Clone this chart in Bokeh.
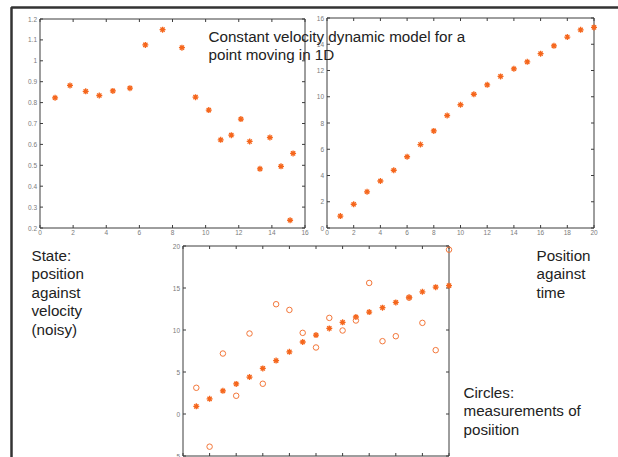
from bokeh.plotting import figure
from bokeh.models import Range1d, Label, BoxAnnotation
from bokeh.core.properties import value
from bokeh.embed import file_html
from bokeh.resources import INLINE

# ---------------- data ----------------
steps = list(range(1, 21))
position = [0.91, 1.81, 2.76, 3.58, 4.40, 5.43, 6.36, 7.40, 8.57, 9.39,
            10.19, 10.91, 11.55, 12.13, 12.66, 13.28, 13.88, 14.55, 15.10, 15.28]
velocity = [0.823, 0.882, 0.854, 0.834, 0.856, 0.869, 1.076, 1.149, 1.063, 0.826,
            0.764, 0.622, 0.644, 0.721, 0.614, 0.483, 0.633, 0.495, 0.237, 0.557]
measured = [3.12, -3.89, 7.20, 2.17, 9.58, 3.60, 13.07, 12.39, 9.66, 7.92,
            11.44, 9.94, 11.13, 15.60, 8.67, 9.26, 13.85, 10.85, 7.60, 19.56]

p1_xlim = (0, 16)
p1_ylim = (0.2, 1.2)
p1_xticks = [0, 2, 4, 6, 8, 10, 12, 14, 16]
p1_xlabels = ["0", "2", "4", "6", "8", "10", "12", "14", "16"]
p1_yticks = [0.2, 0.3, 0.4, 0.5, 0.6, 0.7, 0.8, 0.9, 1.0, 1.1, 1.2]
p1_ylabels = ["0.2", "0.3", "0.4", "0.5", "0.6", "0.7", "0.8", "0.9", "1", "1.1", "1.2"]

p2_xlim = (0, 20)
p2_ylim = (0, 16)
p2_xticks = [0, 2, 4, 6, 8, 10, 12, 14, 16, 18, 20]
p2_xlabels = ["0", "2", "4", "6", "8", "10", "12", "14", "16", "18", "20"]
p2_yticks = [0, 2, 4, 6, 8, 10, 12, 14, 16]
p2_ylabels = ["0", "2", "4", "6", "8", "10", "12", "14", "16"]

p3_xlim = (0, 20)
p3_ylim = (-5, 20)
p3_xticks = [0, 2, 4, 6, 8, 10, 12, 14, 16, 18, 20]
p3_yticks = [-5, 0, 5, 10, 15, 20]
p3_ylabels = ["-5", "0", "5", "10", "15", "20"]

title_text = "Constant velocity dynamic model for a\npoint moving in 1D"
state_text = "State:\nposition\nagainst\nvelocity\n(noisy)"
pos_text = "Position\nagainst\ntime"
circ_text = "Circles:\nmeasurements of\nposiition"

# ---------------- style / layout ----------------
W, H = 618, 457
STAR = "#f5661c"
CIRC = "#f3773a"
AX = "#3c3c3c"
LBL = "#7a7a7a"
FONT = "Liberation Sans"

# page canvas in pixel units (y downwards)
p = figure(width=W, height=H, output_backend="svg", toolbar_location=None,
           x_range=Range1d(0, W), y_range=Range1d(H, 0),
           x_axis_location=None, y_axis_location=None, min_border=0)
p.outline_line_color = None
p.background_fill_color = "white"
p.border_fill_color = "white"
p.xgrid.visible = False
p.ygrid.visible = False


def panel(xlim, ylim, box):
    left, right, top, bottom = box
    return p.subplot(x_source=Range1d(*xlim), y_source=Range1d(*ylim),
                     x_target=Range1d(left, right), y_target=Range1d(bottom, top))


def draw_axes(sub, xlim, ylim, xticks, yticks, xlabels, ylabels):
    nx, ny = len(xticks), len(yticks)
    sub.quad(left=[xlim[0]], right=[xlim[1]], bottom=[ylim[0]], top=[ylim[1]],
             fill_color=None, line_color=AX, line_width=1)
    tick = dict(length=3, length_units="screen", angle_units="deg",
                line_color=AX, line_width=1)
    sub.ray(x=xticks, y=[ylim[0]] * nx, angle=90, **tick)
    sub.ray(x=xticks, y=[ylim[1]] * nx, angle=-90, **tick)
    sub.ray(x=[xlim[0]] * ny, y=yticks, angle=0, **tick)
    sub.ray(x=[xlim[1]] * ny, y=yticks, angle=180, **tick)
    lab = dict(text_font=value(FONT), text_font_size="6.5px", text_color=LBL)
    if xlabels:
        sub.text(x=xticks, y=[ylim[0]] * nx, text=xlabels, text_align="center",
                 text_baseline="top", y_offset=2, **lab)
    sub.text(x=[xlim[0]] * ny, y=yticks, text=ylabels, text_align="right",
             text_baseline="middle", x_offset=-3, **lab)


# plot 1: velocity against position
s1 = panel(p1_xlim, p1_ylim, (39.5, 304.5, 18.5, 227.5))
draw_axes(s1, p1_xlim, p1_ylim, p1_xticks, p1_yticks, p1_xlabels, p1_ylabels)
s1.scatter(position, velocity, marker="asterisk", size=6, line_color=STAR, line_width=1.3)

# plot 2: position against time
s2 = panel(p2_xlim, p2_ylim, (326.5, 593.5, 17.5, 227.5))
draw_axes(s2, p2_xlim, p2_ylim, p2_xticks, p2_yticks, p2_xlabels, p2_ylabels)
s2.scatter(steps, position, marker="asterisk", size=6, line_color=STAR, line_width=1.3)

# plot 3: position and measurements against time
s3 = panel(p3_xlim, p3_ylim, (182.5, 448.5, 245.5, 455.5))
draw_axes(s3, p3_xlim, p3_ylim, p3_xticks, p3_yticks, None, p3_ylabels)
s3.scatter(steps, position, marker="asterisk", size=6, line_color=STAR, line_width=1.3)
s3.scatter(steps, measured, marker="circle", size=5.5, line_color=CIRC, line_width=1,
           fill_color=None)

# slide frame (left and top edges visible)
p.add_layout(BoxAnnotation(left=11, right=W + 40, top=7, bottom=H + 40,
                           fill_alpha=0, line_color="#333333", line_alpha=1,
                           line_width=2.5))


def add_text(x, y, txt):
    p.add_layout(Label(x=x, y=y, text=txt, text_font=FONT, text_font_size="15.2px",
                       text_color="#222222", text_baseline="top", text_align="left",
                       text_line_height=1.09))


add_text(208, 27, title_text)
add_text(31, 246, state_text)
add_text(536, 246, pos_text)
add_text(463, 383, circ_text)

open("out.html", "w").write(file_html(p, INLINE))
